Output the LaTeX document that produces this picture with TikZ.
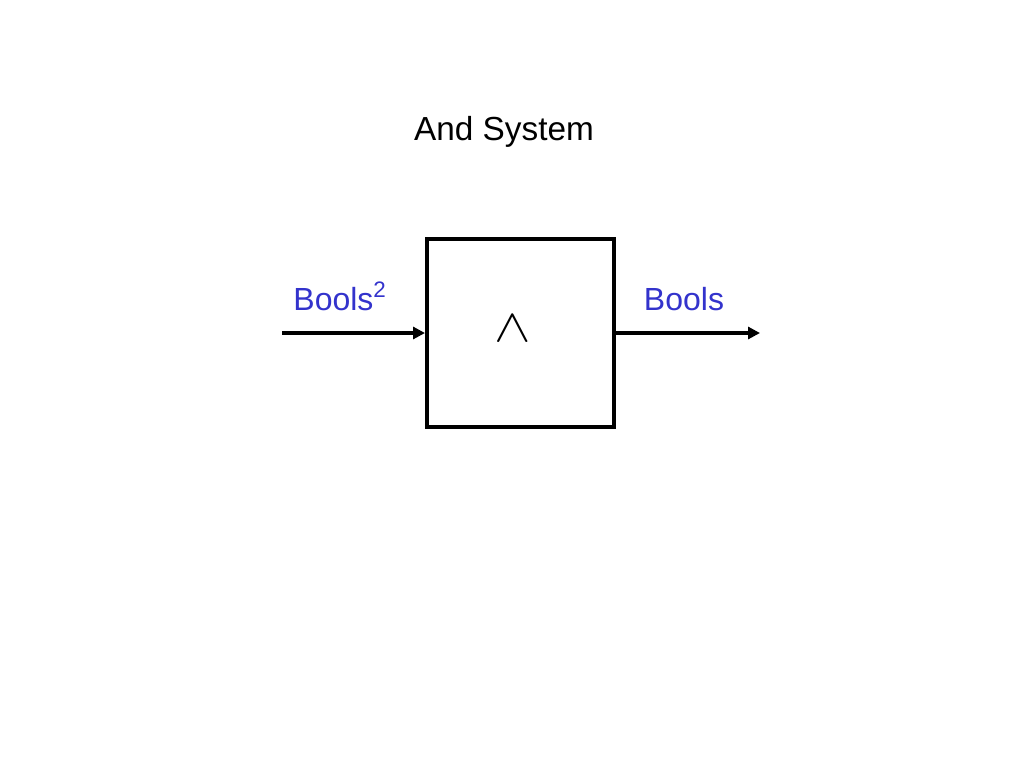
\documentclass[tikz,border=0pt]{standalone}
\usepackage{fontspec}
\setmainfont{Liberation Sans}
\usetikzlibrary{arrows.meta}
\definecolor{lblblue}{RGB}{51,51,204}
\begin{document}
\begin{tikzpicture}[x=0.75pt,y=-0.75pt,
  sysbox/.style={draw,line width=3pt,minimum width=187*0.75pt,minimum height=188*0.75pt,inner sep=0pt},
  conn/.style={line width=2.8pt,-{Triangle[length=9pt,width=9pt]}},
  lbl/.style={text=lblblue,font=\fontsize{24pt}{28pt}\selectfont,inner sep=0pt,anchor=base}]
\useasboundingbox (0,0) rectangle (1024,768);
\node[font=\fontsize{25pt}{30pt}\selectfont,anchor=base,inner sep=0pt] (title) at (504,140) {And System};
\node[sysbox] (sys) at (520.5,332.5) {};
\node[font=\fontsize{24.88pt}{30pt}\selectfont,inner sep=0pt] (op) at (513,329) {\scalebox{1.65}[1.4]{$\wedge$}};
\coordinate (in) at (282,333);
\coordinate (out) at (760,333);
\draw[conn] (in) -- (sys.west |- in);
\draw[conn] (sys.east |- out) -- (out);
\node[lbl] (inl) at (340,310) {Bools\textsuperscript{2}};
\node[lbl] (outl) at (684,310) {Bools};
\end{tikzpicture}
\end{document}
